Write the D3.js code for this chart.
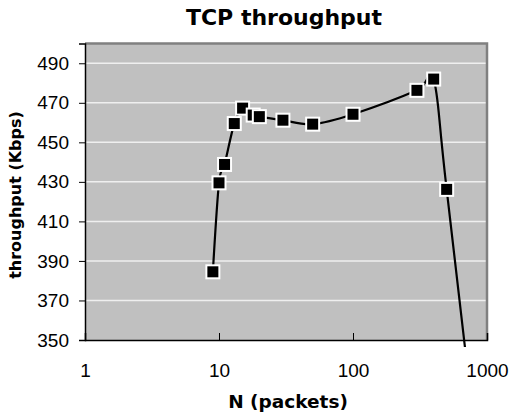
<!DOCTYPE html>
<html><head><meta charset="utf-8">
<script src="https://cdn.jsdelivr.net/npm/d3@7"></script>
<style>body{margin:0;background:#fff}</style>
</head><body>
<svg id="c" width="512" height="414"></svg>
<script>
const packets = [9, 10, 11, 13, 15, 18, 20, 30, 50, 100, 300, 400, 500, 1000];
const throughput = [384.5, 429.5, 438.8, 459.5, 467.3, 463.8, 463, 461.2, 459.2, 464.2, 476.3, 482, 426.2, 250];
const yTicks = [350, 370, 390, 410, 430, 450, 470, 490];
const xTicks = [1, 10, 100, 1000];
const title = "TCP throughput";
const xTitle = "N (packets)";
const yTitle = "throughput (Kbps)";

const svg = d3.select("#c");
const L = 85, R = 487, T = 43.5, B = 340;
const x = d3.scaleLog().domain([1, 1000]).range([L, R]);
const y = d3.scaleLinear().domain([350, 500]).range([B, T]);
const data = packets.map((p, i) => ({p, v: throughput[i]}));

const tickFont = "'Liberation Sans', Arial, sans-serif";
const titleFont = "'DejaVu Sans', sans-serif";

svg.append("rect").attr("x", L).attr("y", T).attr("width", R - L).attr("height", B - T)
  .attr("fill", "#c0c0c0");

// gridlines
svg.append("g").selectAll("line").data(yTicks.filter(t => t > 350)).join("line")
  .attr("x1", L).attr("x2", R).attr("y1", d => y(d)).attr("y2", d => y(d))
  .attr("stroke", "#efefef").attr("stroke-width", 1.5);

// border top/right
svg.append("path").attr("d", `M${L},${T}H${R}V${B}`).attr("fill", "none")
  .attr("stroke", "#808080").attr("stroke-width", 2.5);

// y axis
const yAxis = d3.axisLeft(y).tickValues(yTicks).tickSize(6).tickPadding(10).tickFormat(d3.format("d"));
const gy = svg.append("g").attr("transform", `translate(${L},0)`).call(yAxis);
gy.select(".domain").attr("stroke", "#000").attr("stroke-width", 1.5);
gy.selectAll(".tick line").attr("stroke", "#000");
gy.selectAll("text").attr("font-family", tickFont).attr("font-size", 19).attr("fill", "#000");

// x axis
const xAxis = d3.axisBottom(x).tickValues(xTicks).tickSize(-7).tickPadding(24).tickFormat(d3.format("d"));
const gx = svg.append("g").attr("transform", `translate(0,${B})`).call(xAxis);
gx.select(".domain").attr("stroke", "#000").attr("stroke-width", 1.5);
gx.selectAll(".tick line").attr("stroke", "#000");
gx.selectAll("text").attr("font-family", tickFont).attr("font-size", 19).attr("fill", "#000");

// clip
svg.append("clipPath").attr("id", "clip").append("rect")
  .attr("x", L).attr("y", T - 10).attr("width", R - L).attr("height", B - T + 17);

const line = d3.line().x(d => x(d.p)).y(d => y(d.v)).curve(d3.curveCardinal.tension(0));
const g = svg.append("g").attr("clip-path", "url(#clip)");
g.append("path").datum(data).attr("d", line).attr("fill", "none")
  .attr("stroke", "#000").attr("stroke-width", 2.2);
const ms = 13;
g.selectAll("rect.m").data(data).join("rect").attr("class", "m")
  .attr("x", d => x(d.p) - ms / 2).attr("y", d => y(d.v) - ms / 2)
  .attr("width", ms).attr("height", ms)
  .attr("fill", "#000").attr("stroke", "#fff").attr("stroke-width", 2);

svg.append("text").attr("x", 284).attr("y", 25).attr("text-anchor", "middle")
  .attr("font-family", titleFont).attr("font-weight", "bold").attr("font-size", 22).text(title);
svg.append("text").attr("x", 288).attr("y", 408).attr("text-anchor", "middle")
  .attr("font-family", titleFont).attr("font-weight", "bold").attr("font-size", 18.5).text(xTitle);
svg.append("text").attr("transform", "translate(21,195) rotate(-90)").attr("text-anchor", "middle")
  .attr("font-family", titleFont).attr("font-weight", "bold").attr("font-size", 16).text(yTitle);
</script>
</body></html>
